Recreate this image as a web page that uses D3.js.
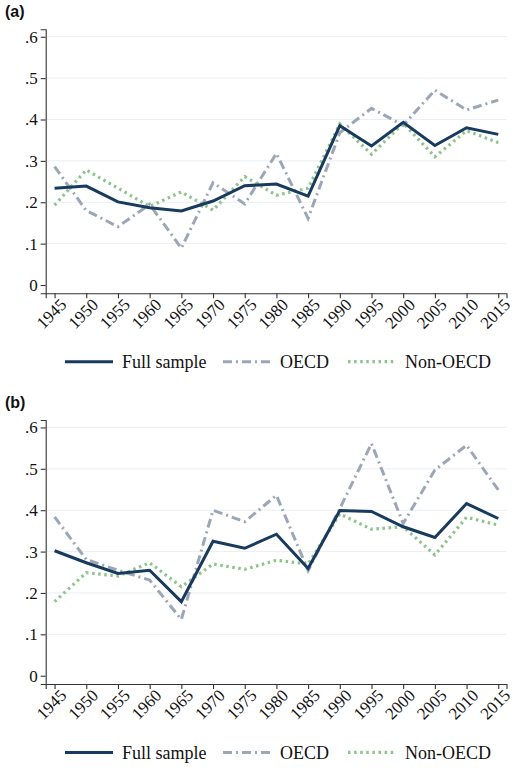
<!DOCTYPE html>
<html><head><meta charset="utf-8">
<script src="https://cdn.jsdelivr.net/npm/d3@7"></script>
<style>body{margin:0;background:#fff}svg{display:block}
.serif{font-family:"Liberation Serif","DejaVu Serif",serif}
</style>
</head><body>
<svg id="c" width="520" height="771"></svg>
<script>
const years = [1945,1950,1955,1960,1965,1970,1975,1980,1985,1990,1995,2000,2005,2010,2015];
const yTicks = [0,0.1,0.2,0.3,0.4,0.5,0.6];
const panelLabels = ["(a)","(b)"];
const seriesNames = ["Full sample","OECD","Non-OECD"];
const fullA   = [0.234,0.239,0.201,0.187,0.179,0.203,0.240,0.244,0.215,0.385,0.336,0.393,0.337,0.380,0.364];
const oecdA   = [0.286,0.180,0.141,0.195,0.089,0.247,0.196,0.318,0.161,0.368,0.427,0.386,0.471,0.423,0.447];
const nonA    = [0.193,0.278,0.234,0.190,0.225,0.181,0.262,0.217,0.234,0.389,0.316,0.391,0.310,0.373,0.344];
const fullB   = [0.302,0.273,0.247,0.255,0.179,0.325,0.308,0.342,0.259,0.399,0.397,0.360,0.334,0.416,0.380];
const oecdB   = [0.384,0.281,0.255,0.231,0.136,0.400,0.372,0.436,0.254,0.404,0.561,0.368,0.497,0.557,0.449];
const nonB    = [0.179,0.249,0.241,0.273,0.215,0.270,0.257,0.279,0.270,0.391,0.354,0.360,0.292,0.383,0.364];

const styles = [
  {color:"#173a5e", dash:null, width:3, cap:"butt"},
  {color:"#9ba7b7", dash:"9,4,2,4", width:3, cap:"butt"},
  {color:"#8ec48c", dash:"2.5,3.6", width:3.2, cap:"butt"}
];
const svg = d3.select("#c");

function panel(oy, label, data){
  const g = svg.append("g").attr("transform",`translate(0,${oy})`);
  const x = d3.scaleLinear().domain([1943.6,2016.3]).range([45.7,506.5]);
  const y = d3.scaleLinear().domain([-0.02,0.618]).range([293.3,29.3]);
  g.append("text").attr("x",5).attr("y",17).text(label)
    .style("font-family","'Liberation Sans',Arial,sans-serif").style("font-weight","bold").style("font-size","16px").attr("fill","#111");
  g.append("g").selectAll("line").data(yTicks.filter(d=>d>0)).join("line")
    .attr("x1",x.range()[0]).attr("x2",x.range()[1]).attr("y1",d=>y(d)).attr("y2",d=>y(d))
    .attr("stroke","#eaeff2").attr("stroke-width",1);
  const fmt = d => d===0 ? "0" : d3.format(".1f")(d).replace(/^0/,"");
  const ya = g.append("g").attr("transform",`translate(${x.range()[0]},0)`)
    .call(d3.axisLeft(y).tickValues(yTicks).tickFormat(fmt).tickSizeOuter(0).tickSize(5).tickPadding(3));
  ya.attr("font-family",null).attr("font-size",null);
  ya.selectAll("text").attr("class","serif").style("font-size","17px").attr("fill","#111");
  const xa = g.append("g").attr("transform",`translate(0,${y.range()[0]})`)
    .call(d3.axisBottom(x).tickValues(years).tickFormat(d3.format("d")).tickSizeOuter(0).tickSize(5));
  xa.attr("font-family",null).attr("font-size",null);
  xa.selectAll("text").attr("class","serif").style("font-size","17px").attr("fill","#111")
    .attr("text-anchor","end").attr("dy","0.35em").attr("transform","translate(4,4) rotate(-45)").attr("y",6).attr("x",0);
  [ya,xa].forEach(a=>{a.selectAll("path,line").attr("stroke","#333").attr("stroke-width",1.1);});
  const line = d3.line().x((d,i)=>x(years[i])).y(d=>y(d));
  [1,2,0].forEach(k=>{
    const s = styles[k];
    g.append("path").datum(data[k]).attr("d",line).attr("fill","none")
      .attr("stroke",s.color).attr("stroke-width",s.width).attr("stroke-dasharray",s.dash)
      .attr("stroke-linecap",s.cap).attr("stroke-linejoin","miter");
  });
  const lx = [65,223,348];
  const ly = 361.7;
  seriesNames.forEach((n,k)=>{
    const s = styles[k];
    g.append("line").attr("x1",lx[k]).attr("x2",lx[k]+48).attr("y1",ly).attr("y2",ly)
      .attr("stroke",s.color).attr("stroke-width",s.width).attr("stroke-dasharray",s.dash).attr("stroke-linecap",s.cap);
    g.append("text").attr("class","serif").attr("x",lx[k]+57).attr("y",ly).attr("dy","0.35em").text(n)
      .style("font-size","18px").attr("fill","#111");
  });
}
panel(0, panelLabels[0], [fullA,oecdA,nonA]);
panel(390.7, panelLabels[1], [fullB,oecdB,nonB]);
</script>
</body></html>
